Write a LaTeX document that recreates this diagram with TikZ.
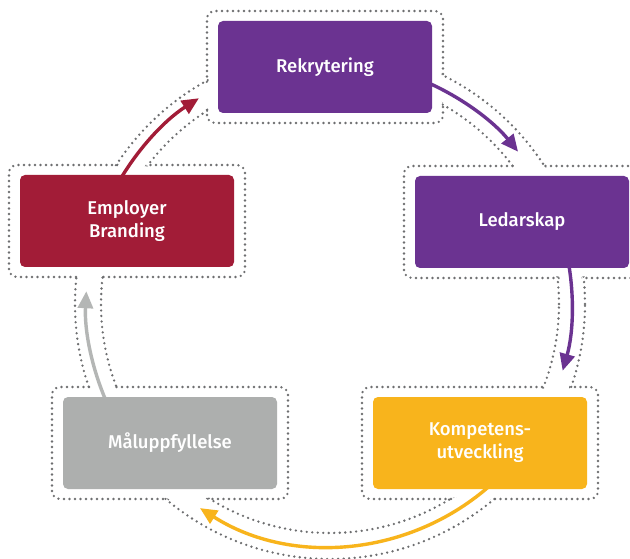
\documentclass[tikz,border=0pt]{standalone}
\usepackage{fontspec}
\setmainfont{Fira Sans}[BoldFont={Fira Sans Medium}]
\usetikzlibrary{arrows.meta}

\definecolor{violet1}{HTML}{6B3391}
\definecolor{rouge1}{HTML}{A21C37}
\definecolor{jaune1}{HTML}{F8B41C}
\definecolor{gris1}{HTML}{ADAFAE}
\definecolor{gris2}{HTML}{B4B6B5}
\definecolor{pointgris}{HTML}{6D6E70}

\tikzset{boite/.style = {fill=#1, rounded corners=5pt, minimum width=214pt, minimum height=92pt,
                         text=white, align=center, inner sep=0pt,
                         font=\fontsize{18.5}{23}\selectfont\bfseries},
         pointille/.style = {draw=pointgris, line width=2.6pt, line cap=round,
                              dash pattern=on 0pt off 5.5pt},
         fleche/.style = {draw=#1, line width=3.4pt, -{Triangle[length=17pt,width=15pt]}}
        }

\begin{document}
\begin{tikzpicture}[x=1pt,y=1pt]
  \useasboundingbox (0,0) rectangle (630,558);
  \clip (0,0) rectangle (630,558);
  \coordinate (C) at (330,254);
  \coordinate (cR) at (325,491);
  \coordinate (cL) at (522,336);
  \coordinate (cK) at (480,115);
  \coordinate (cM) at (170,115);
  \coordinate (cE) at (127,337);
  % anneau en pointilles
  \draw[pointille] (C) circle (229);
  \draw[pointille] (C) circle (255);
  \foreach \c in {cR,cL,cK,cM,cE}
    \fill[white, rounded corners=8pt] ([shift={(-116.5,-54.5)}]\c) rectangle ([shift={(116.5,54.5)}]\c);
  \foreach \c in {cR,cL,cK,cM,cE}
    \draw[pointille, rounded corners=8pt] ([shift={(-118,-56)}]\c) rectangle ([shift={(118,56)}]\c);
  \fill[white, even odd rule] (C) circle (253) (C) circle (231);
  % fleches
  \coordinate (a1) at ([shift={(66:242)}]C);
  \coordinate (a2) at ([shift={(12:242)}]C);
  \coordinate (a3) at ([shift={(-48:242)}]C);
  \coordinate (a4) at ([shift={(204:244)}]C);
  \coordinate (a5) at ([shift={(151:244)}]C);
  \draw[fleche=violet1] (a1) arc[start angle=66, end angle=39, radius=242];
  \draw[fleche=violet1] (a2) arc[start angle=12, end angle=-16, radius=242];
  \draw[fleche=jaune1] (a3) arc[start angle=-48, end angle=-122.5, radius=242];
  \draw[fleche=gris2] (a4) arc[start angle=204, end angle=177, radius=244];
  \draw[fleche=rouge1] (a5) arc[start angle=151, end angle=122.5, radius=244];
  % etapes
  \node[boite=violet1] (R) at (cR) {Rekrytering};
  \node[boite=violet1] (L) at (cL) {Ledarskap};
  \node[boite=jaune1] (K) at (cK) {Kompetens-\\utveckling};
  \node[boite=gris1] (M) at (cM) {Måluppfyllelse};
  \node[boite=rouge1] (E) at (cE) {Employer\\Branding};
\end{tikzpicture}
\end{document}
